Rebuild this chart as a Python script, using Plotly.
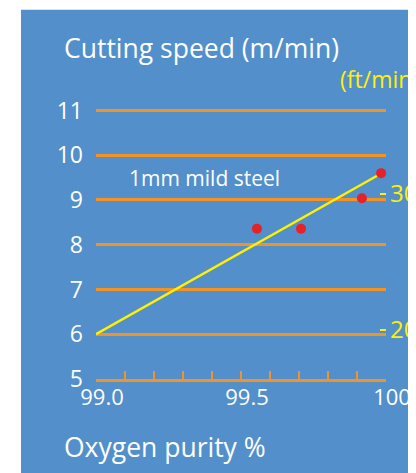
import plotly.graph_objects as go

# Data
purity = [99.555, 99.707, 99.917, 99.983]
speed_m = [8.36, 8.36, 9.04, 9.60]
trend_x = [99.0, 99.98]
trend_y = [6.0, 9.58]
x_tickvals = [99.0, 99.5, 100.0]
x_ticktext = ["99.0", "99.5", "100"]
y_tickvals = [5, 6, 7, 8, 9, 10, 11]
ft_tickvals = [20, 30]
ft_ticktext = ["20", "30"]
M_TO_FT = 3.28084

OFF = 8  # page body margin
W, H = 416 - OFF, 473 - OFF
Y_TOP = 11.1
UNIT = (379 - 110) / 6.0
L, R, B = 96 - OFF, 30, 94
T = (110 - OFF) - (Y_TOP - 11) * UNIT
PW, PH = W - L - R, H - T - B

def px(x):
    return (x - OFF - L) / PW

def py(y):
    return (H - B - (y - OFF)) / PH

BLUE = "#528fcb"
ORANGE = "#f39325"
YELLOW = "#fff100"
RED = "#e62229"
FONT = "Open Sans"

fig = go.Figure()
fig.add_trace(go.Scatter(x=trend_x, y=trend_y, mode="lines",
                         line=dict(color=YELLOW, width=2.5), hoverinfo="skip"))
fig.add_trace(go.Scatter(x=purity, y=speed_m, mode="markers",
                         marker=dict(color=RED, size=10)))
# invisible traces to anchor secondary axes
fig.add_trace(go.Scatter(x=trend_x, y=[v * M_TO_FT for v in trend_y], xaxis="x", yaxis="y2",
                         mode="lines", line=dict(width=0), opacity=0, hoverinfo="skip"))
fig.add_trace(go.Scatter(x=trend_x, y=trend_y, xaxis="x2", yaxis="y",
                         mode="lines", line=dict(width=0), opacity=0, hoverinfo="skip"))

fig.update_layout(
    width=W, height=H,
    margin=dict(l=L, r=R, t=T, b=B, autoexpand=False),
    paper_bgcolor="white",
    plot_bgcolor="rgba(0,0,0,0)",
    showlegend=False,
    font=dict(family=FONT, color="white"),
    xaxis=dict(
        range=[99.0, 100.0], tickvals=x_tickvals, ticktext=x_ticktext,
        ticks="inside", ticklen=8, tickwidth=2, tickcolor=ORANGE,
        minor=dict(dtick=0.1, ticks="inside", ticklen=8, tickwidth=2, tickcolor=ORANGE),
        showline=True, linecolor=ORANGE, linewidth=3,
        showgrid=False, zeroline=False, automargin=False,
        tickfont=dict(size=22, color="white", family=FONT),
        ticklabelshift=6, ticklabelstandoff=-3,
    ),
    xaxis2=dict(
        range=[99.0, 100.0], overlaying="x", matches="x", side="bottom",
        tickvals=[99.0, 100.0], ticks="inside", ticklen=12, tickwidth=2,
        tickcolor=ORANGE, showticklabels=False, showgrid=False, zeroline=False,
        showline=False, automargin=False,
    ),
    yaxis=dict(
        range=[5, Y_TOP], tickvals=y_tickvals,
        showgrid=True, gridcolor=ORANGE, gridwidth=2.5,
        zeroline=False, showline=False, ticks="", automargin=False,
        tickfont=dict(size=23, color="white", family=FONT),
        ticklabelstandoff=12,
    ),
    yaxis2=dict(
        range=[5 * M_TO_FT, Y_TOP * M_TO_FT], overlaying="y", side="right",
        tickvals=ft_tickvals, ticktext=ft_ticktext,
        ticks="inside", ticklen=6, tickwidth=2, tickcolor=YELLOW,
        showgrid=False, zeroline=False, showline=False, automargin=False,
        tickfont=dict(size=24, color=YELLOW, family=FONT),
        ticklabelstandoff=3,
    ),
    shapes=[dict(type="rect", xref="paper", yref="paper",
                 x0=px(21), x1=px(416 + 5), y0=py(473 + 5), y1=py(9),
                 fillcolor=BLUE, line=dict(width=0), layer="below")],
    annotations=[
        dict(text="Cutting speed (m/min)", xref="paper", yref="paper",
             x=px(62), y=py(47), xanchor="left", yanchor="middle", showarrow=False,
             font=dict(size=26.5, color="white", family=FONT)),
        dict(text="(ft/min)", xref="paper", yref="paper",
             x=px(338), y=py(78), xanchor="left", yanchor="middle", showarrow=False,
             font=dict(size=23, color=YELLOW, family=FONT)),
        dict(text="1mm mild steel", xref="paper", yref="paper",
             x=px(127), y=py(178), xanchor="left", yanchor="middle", showarrow=False,
             font=dict(size=21, color="white", family=FONT)),
        dict(text="Oxygen purity %", xref="paper", yref="paper",
             x=px(62), y=py(447), xanchor="left", yanchor="middle", showarrow=False,
             font=dict(size=26.5, color="white", family=FONT)),
    ],
)

fig.write_html("out.html")
